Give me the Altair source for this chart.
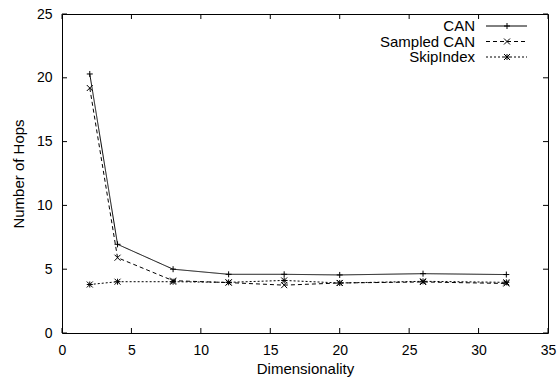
import altair as alt
import pandas as pd

dims = [2, 4, 8, 12, 16, 20, 26, 32]
can = [20.3, 6.95, 5.0, 4.6, 4.6, 4.55, 4.65, 4.58]
sampled_can = [19.2, 5.9, 4.1, 3.95, 3.75, 3.92, 4.0, 3.88]
skipindex = [3.8, 4.02, 4.02, 3.97, 4.12, 3.92, 4.05, 3.97]

series_names = ["CAN", "Sampled CAN", "SkipIndex"]
x_ticks = [0, 5, 10, 15, 20, 25, 30, 35]
y_ticks = [0, 5, 10, 15, 20, 25]

W, H = 486, 319
FONT = "Liberation Sans"

rows = []
for name, vals in zip(series_names, [can, sampled_can, skipindex]):
    for d, v in zip(dims, vals):
        rows.append({"dim": d, "hops": v, "series": name})
df = pd.DataFrame(rows)

plus = "M-1,0L1,0M0,-1L0,1"
cross = "M-1,-1L1,1M-1,1L1,-1"
star = plus + cross
shapes = [plus, cross, star]
dashes = [[1, 0], [4, 3], [2, 2]]

xscale = alt.Scale(domain=[0, 35], nice=False, zero=False)
yscale = alt.Scale(domain=[0, 25], nice=False, zero=False)

xaxis = alt.Axis(values=x_ticks, title="Dimensionality", ticks=False, domain=False, grid=False,
                 labelPadding=10, labelFlush=False, labelOverlap=False, labelFontSize=14,
                 titleFontSize=15, titleFontWeight="normal", titleY=40, titleBaseline="alphabetic",
                 labelFont=FONT, titleFont=FONT, labelColor="black", titleColor="black")
yaxis = alt.Axis(values=y_ticks, title="Number of Hops", ticks=False, domain=False, grid=False,
                 labelPadding=10, labelFlush=False, labelOverlap=False, labelFontSize=14,
                 titleFontSize=15, titleFontWeight="normal", titleX=-39, titleBaseline="alphabetic",
                 labelFont=FONT, titleFont=FONT, labelColor="black", titleColor="black")

base = alt.Chart(df)
lines = base.mark_line(strokeWidth=1, color="black").encode(
    x=alt.X("dim:Q", scale=xscale, axis=xaxis),
    y=alt.Y("hops:Q", scale=yscale, axis=yaxis),
    strokeDash=alt.StrokeDash("series:N", scale=alt.Scale(domain=series_names, range=dashes), legend=None),
    detail="series:N",
)
points = base.mark_point(filled=False, strokeWidth=1, color="black", size=36, opacity=1).encode(
    x=alt.X("dim:Q", scale=xscale),
    y=alt.Y("hops:Q", scale=yscale),
    shape=alt.Shape("series:N", scale=alt.Scale(domain=series_names, range=shapes), legend=None),
)

# inward ticks (gnuplot style) on all four sides
xt = alt.Chart(pd.DataFrame({"t": x_ticks}))
yt = alt.Chart(pd.DataFrame({"t": y_ticks}))
tick_layers = [
    xt.mark_rule(color="black", strokeWidth=1).encode(x=alt.X("t:Q", scale=xscale), y=alt.value(H), y2=alt.value(H - 5)),
    xt.mark_rule(color="black", strokeWidth=1).encode(x=alt.X("t:Q", scale=xscale), y=alt.value(0), y2=alt.value(5)),
    yt.mark_rule(color="black", strokeWidth=1).encode(y=alt.Y("t:Q", scale=yscale), x=alt.value(0), x2=alt.value(5)),
    yt.mark_rule(color="black", strokeWidth=1).encode(y=alt.Y("t:Q", scale=yscale), x=alt.value(W), x2=alt.value(W - 5)),
]

# manual gnuplot-style legend
legend_layers = []
for i, name in enumerate(series_names):
    ly = 12 + 15.5 * i
    one = alt.Chart(pd.DataFrame({"label": [name]}))
    legend_layers.append(one.mark_text(align="right", baseline="alphabetic", font=FONT, fontSize=15, color="black").encode(
        x=alt.value(413), y=alt.value(ly + 5), text="label:N"))
    legend_layers.append(one.mark_rule(color="black", strokeWidth=1, strokeDash=dashes[i]).encode(
        x=alt.value(424), x2=alt.value(465), y=alt.value(ly)))
    legend_layers.append(one.mark_point(shape=shapes[i], filled=False, strokeWidth=1, color="black", size=36, opacity=1).encode(
        x=alt.value(445), y=alt.value(ly)))

chart = alt.layer(lines, points, *tick_layers, *legend_layers).properties(
    width=W, height=H,
    autosize=alt.AutoSizeParams(type="none"),
    padding={"left": 62, "top": 14, "right": 10, "bottom": 46},
    background="white",
).configure_view(stroke="black", strokeWidth=1)

chart.save("out.html", embed_options={"renderer": "svg", "actions": False})
